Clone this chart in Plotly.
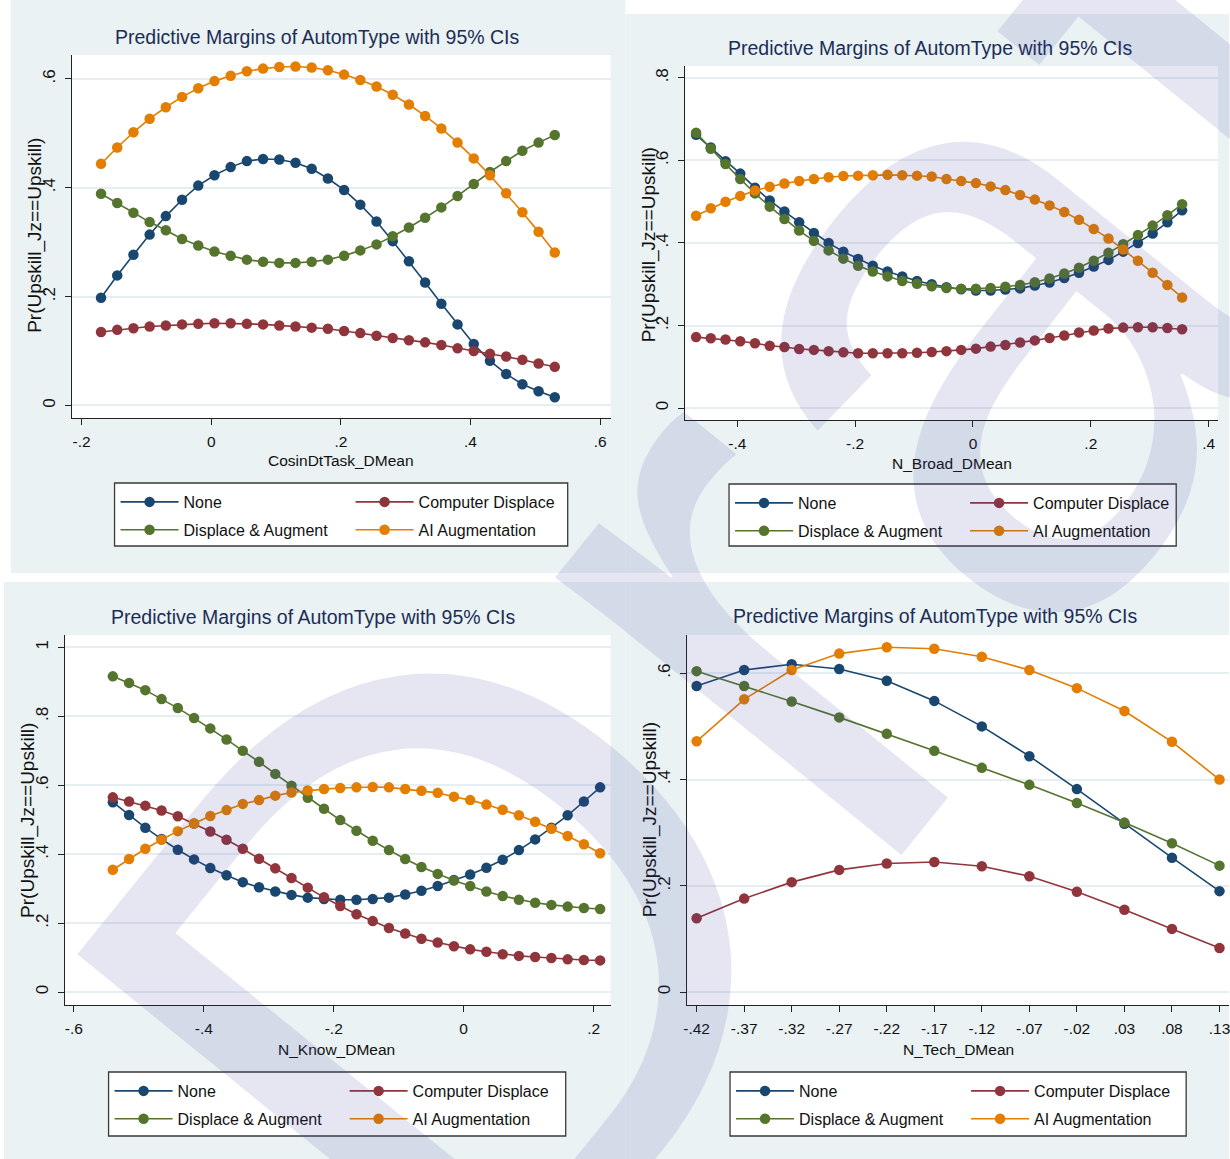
import plotly.graph_objects as go

W, H = 1230, 1159

FONT = "Liberation Sans, Arial, sans-serif"

series_names = ["None", "Computer Displace", "Displace & Augment", "AI Augmentation"]
series_colors = ["#1a476f", "#90353b", "#55752f", "#e37e00"]

title_text = "Predictive Margins of AutomType with 95% CIs"
y_title = "Pr(Upskill_Jz==Upskill)"

# ---- CosinDtTask_DMean ----
cosin_x = [-0.17, -0.145, -0.12, -0.095, -0.07, -0.045, -0.02, 0.005, 0.03, 0.055,
           0.08, 0.105, 0.13, 0.155, 0.18, 0.205, 0.23, 0.255, 0.28, 0.305,
           0.33, 0.355, 0.38, 0.405, 0.43, 0.455, 0.48, 0.505, 0.53]
cosin_none = [0.198, 0.239, 0.277, 0.314, 0.348, 0.378, 0.404, 0.423, 0.438, 0.449,
              0.453, 0.452, 0.446, 0.435, 0.417, 0.396, 0.369, 0.338, 0.302, 0.265,
              0.226, 0.187, 0.149, 0.113, 0.082, 0.058, 0.039, 0.026, 0.015]
cosin_comp = [0.135, 0.139, 0.142, 0.145, 0.147, 0.149, 0.150, 0.151, 0.151, 0.150,
              0.149, 0.147, 0.145, 0.143, 0.141, 0.137, 0.133, 0.128, 0.124, 0.120,
              0.116, 0.111, 0.105, 0.100, 0.095, 0.090, 0.084, 0.077, 0.071]
cosin_disp = [0.389, 0.372, 0.354, 0.337, 0.322, 0.306, 0.294, 0.283, 0.275, 0.268,
              0.264, 0.262, 0.262, 0.264, 0.268, 0.275, 0.285, 0.296, 0.311, 0.327,
              0.345, 0.364, 0.385, 0.407, 0.429, 0.449, 0.468, 0.483, 0.497]
cosin_ai = [0.444, 0.474, 0.502, 0.527, 0.548, 0.567, 0.583, 0.596, 0.606, 0.614,
            0.619, 0.622, 0.623, 0.621, 0.616, 0.608, 0.598, 0.586, 0.571, 0.553,
            0.532, 0.509, 0.483, 0.454, 0.423, 0.390, 0.355, 0.319, 0.281]

# ---- N_Broad_DMean ----
broad_x = [-0.47, -0.445, -0.42, -0.395, -0.37, -0.345, -0.32, -0.295, -0.27, -0.245,
           -0.22, -0.195, -0.17, -0.145, -0.12, -0.095, -0.07, -0.045, -0.02, 0.005,
           0.03, 0.055, 0.08, 0.105, 0.13, 0.155, 0.18, 0.205, 0.23, 0.255,
           0.28, 0.305, 0.33, 0.355]
broad_none = [0.662, 0.631, 0.598, 0.568, 0.534, 0.503, 0.476, 0.450, 0.424, 0.400,
              0.379, 0.361, 0.345, 0.331, 0.319, 0.308, 0.300, 0.293, 0.288, 0.285,
              0.285, 0.287, 0.290, 0.297, 0.304, 0.315, 0.328, 0.343, 0.359, 0.379,
              0.400, 0.423, 0.450, 0.479]
broad_comp = [0.172, 0.169, 0.166, 0.162, 0.157, 0.151, 0.148, 0.143, 0.141, 0.138,
              0.135, 0.133, 0.133, 0.133, 0.133, 0.134, 0.136, 0.138, 0.141, 0.144,
              0.149, 0.153, 0.159, 0.164, 0.170, 0.176, 0.183, 0.188, 0.193, 0.195,
              0.196, 0.196, 0.194, 0.191]
broad_disp = [0.667, 0.628, 0.591, 0.555, 0.520, 0.488, 0.458, 0.430, 0.405, 0.382,
              0.362, 0.345, 0.331, 0.319, 0.308, 0.301, 0.295, 0.291, 0.289, 0.289,
              0.291, 0.294, 0.298, 0.305, 0.314, 0.326, 0.340, 0.357, 0.376, 0.397,
              0.419, 0.442, 0.467, 0.494]
broad_ai = [0.466, 0.484, 0.500, 0.514, 0.527, 0.536, 0.544, 0.550, 0.555, 0.559,
            0.562, 0.563, 0.564, 0.565, 0.564, 0.563, 0.561, 0.555, 0.550, 0.545,
            0.537, 0.528, 0.516, 0.505, 0.491, 0.475, 0.456, 0.434, 0.411, 0.384,
            0.357, 0.328, 0.298, 0.268]

# ---- N_Know_DMean ----
know_x = [-0.54, -0.515, -0.49, -0.465, -0.44, -0.415, -0.39, -0.365, -0.34, -0.315,
          -0.29, -0.265, -0.24, -0.215, -0.19, -0.165, -0.14, -0.115, -0.09, -0.065,
          -0.04, -0.015, 0.01, 0.035, 0.06, 0.085, 0.11, 0.135, 0.16, 0.185, 0.21]
know_none = [0.551, 0.514, 0.477, 0.444, 0.413, 0.385, 0.360, 0.339, 0.319, 0.304,
             0.292, 0.282, 0.274, 0.270, 0.268, 0.268, 0.270, 0.274, 0.283, 0.294,
             0.308, 0.325, 0.341, 0.361, 0.384, 0.412, 0.443, 0.477, 0.513, 0.553, 0.594]
know_comp = [0.565, 0.553, 0.541, 0.527, 0.510, 0.489, 0.466, 0.442, 0.416, 0.387,
             0.359, 0.331, 0.303, 0.275, 0.250, 0.226, 0.206, 0.186, 0.170, 0.155,
             0.144, 0.133, 0.124, 0.117, 0.110, 0.105, 0.102, 0.099, 0.095, 0.093, 0.092]
know_disp = [0.916, 0.897, 0.876, 0.850, 0.824, 0.795, 0.765, 0.733, 0.700, 0.668,
             0.633, 0.599, 0.564, 0.532, 0.499, 0.468, 0.439, 0.412, 0.386, 0.363,
             0.343, 0.324, 0.308, 0.292, 0.279, 0.268, 0.259, 0.253, 0.248, 0.244, 0.241]
know_ai = [0.355, 0.386, 0.416, 0.442, 0.467, 0.489, 0.511, 0.528, 0.546, 0.557,
           0.570, 0.579, 0.585, 0.589, 0.592, 0.594, 0.595, 0.594, 0.589, 0.584,
           0.578, 0.567, 0.557, 0.544, 0.529, 0.513, 0.494, 0.474, 0.453, 0.429, 0.403]

# ---- N_Tech_DMean ----
tech_x = [-0.42, -0.37, -0.32, -0.27, -0.22, -0.17, -0.12, -0.07, -0.02, 0.03, 0.08, 0.13]
tech_ticktext = ["-.42", "-.37", "-.32", "-.27", "-.22", "-.17", "-.12", "-.07", "-.02", ".03", ".08", ".13"]
tech_none = [0.576, 0.606, 0.617, 0.608, 0.586, 0.548, 0.500, 0.444, 0.382, 0.317, 0.253, 0.190]
tech_comp = [0.139, 0.176, 0.207, 0.230, 0.242, 0.245, 0.237, 0.218, 0.189, 0.155, 0.119, 0.083]
tech_disp = [0.604, 0.576, 0.547, 0.517, 0.486, 0.454, 0.422, 0.390, 0.356, 0.319, 0.280, 0.238]
tech_ai = [0.472, 0.551, 0.606, 0.637, 0.649, 0.646, 0.631, 0.606, 0.572, 0.529, 0.471, 0.400]


def fx(px):
    return px / W


def fy(py):
    return 1 - py / H


# Panel layout, all in pixel units of the page
panels = [
    dict(name="CosinDtTask_DMean", x=cosin_x, ys=[cosin_none, cosin_comp, cosin_disp, cosin_ai],
         bg=(7, 0, 624, 573), plot=(68, 55, 609, 418),
         xrange=[-0.2152, 0.616], yrange=[-0.023, 0.644],
         xtv=[-0.2, 0, 0.2, 0.4, 0.6], xtt=["-.2", "0", ".2", ".4", ".6"],
         ytv=[0, 0.2, 0.4, 0.6], ytt=["0", ".2", ".4", ".6"],
         title=(315, 37), xt=(338, 461), yt=(31, 235), legend=(111, 483, 566, 546)),
    dict(name="N_Broad_DMean", x=broad_x, ys=[broad_none, broad_comp, broad_disp, broad_ai],
         bg=(624, 14, 1230, 573), plot=(684, 66, 1219, 420),
         xrange=[-0.4884, 0.416], yrange=[-0.0288, 0.8286],
         xtv=[-0.4, -0.2, 0, 0.2, 0.4], xtt=["-.4", "-.2", "0", ".2", ".4"],
         ytv=[0, 0.2, 0.4, 0.6, 0.8], ytt=["0", ".2", ".4", ".6", ".8"],
         title=(930, 48), xt=(952, 463), yt=(648, 245), legend=(728, 484, 1177, 546)),
    dict(name="N_Know_DMean", x=know_x, ys=[know_none, know_comp, know_disp, know_ai],
         bg=(0, 582, 624, 1159), plot=(61, 635, 609, 1005),
         xrange=[-0.614, 0.226], yrange=[-0.0374, 1.036],
         xtv=[-0.6, -0.4, -0.2, 0, 0.2], xtt=["-.6", "-.4", "-.2", "0", ".2"],
         ytv=[0, 0.2, 0.4, 0.6, 0.8, 1], ytt=["0", ".2", ".4", ".6", ".8", "1"],
         title=(311, 617), xt=(334, 1049), yt=(24, 820), legend=(105, 1072, 564, 1136)),
    dict(name="N_Tech_DMean", x=tech_x, ys=[tech_none, tech_comp, tech_disp, tech_ai],
         bg=(624, 582, 1230, 1159), plot=(686, 635, 1230, 1005),
         xrange=[-0.4299, 0.140], yrange=[-0.0242, 0.672],
         xtv=tech_x, xtt=tech_ticktext,
         ytv=[0, 0.2, 0.4, 0.6], ytt=["0", ".2", ".4", ".6"],
         title=(935, 616), xt=(958, 1049), yt=(649, 820), legend=(729, 1072, 1187, 1136)),
]

fig = go.Figure()
shapes = []
annotations = []
layout_axes = {}
legend_defs = {}

AXIS_COLOR = "#222222"
GRID_COLOR = "#e6eef1"
PANEL_BG = "#eaf2f3"
TITLE_COLOR = "#1c2d57"
TEXT_COLOR = "#111111"

legend_counter = 0
for i, p in enumerate(panels):
    k = "" if i == 0 else str(i + 1)
    l, t, r, b = p["plot"]
    bl, bt, br, bb = p["bg"]

    # panel background and white plot region
    shapes.append(dict(type="rect", xref="paper", yref="paper", layer="below",
                       x0=fx(bl), x1=fx(br), y0=fy(bb), y1=fy(bt),
                       fillcolor=PANEL_BG, line=dict(width=0)))
    shapes.append(dict(type="rect", xref="paper", yref="paper", layer="below",
                       x0=fx(l), x1=fx(r), y0=fy(b), y1=fy(t),
                       fillcolor="white", line=dict(width=0)))

    layout_axes["xaxis" + k] = dict(
        domain=[fx(l), fx(r)], range=p["xrange"], anchor="y" + k,
        showline=True, linecolor=AXIS_COLOR, linewidth=1.2,
        ticks="outside", ticklen=6, tickwidth=1.2, tickcolor=AXIS_COLOR,
        tickvals=p["xtv"], ticktext=p["xtt"], ticklabelstandoff=3,
        ticklabeloverflow="allow",
        tickfont=dict(family=FONT, size=15.5, color=TEXT_COLOR),
        showgrid=False, zeroline=False, fixedrange=True)
    layout_axes["yaxis" + k] = dict(
        domain=[fy(b), fy(t)], range=p["yrange"], anchor="x" + k,
        showline=True, linecolor=AXIS_COLOR, linewidth=1.2,
        ticks="outside", ticklen=6, tickwidth=1.2, tickcolor=AXIS_COLOR,
        tickvals=p["ytv"], ticktext=p["ytt"], tickangle=-90, ticklabelstandoff=3,
        tickfont=dict(family=FONT, size=17, color=TEXT_COLOR),
        showgrid=True, gridcolor=GRID_COLOR, gridwidth=1.5, zeroline=False, fixedrange=True)

    # legend frame
    lx0, ly0, lx1, ly1 = p["legend"]
    shapes.append(dict(type="rect", xref="paper", yref="paper", layer="below",
                       x0=fx(lx0), x1=fx(lx1), y0=fy(ly1), y1=fy(ly0),
                       fillcolor="white", line=dict(color="#3a3a3a", width=1.3)))

    # two legend columns per panel
    col_names = []
    for c, off in enumerate([1, 237]):
        legend_counter += 1
        lname = "legend" if legend_counter == 1 else "legend%d" % legend_counter
        col_names.append(lname)
        legend_defs[lname] = dict(
            x=fx(lx0 + off), y=fy(ly0 + 2), xanchor="left", yanchor="top",
            orientation="v", bgcolor="rgba(0,0,0,0)", borderwidth=0,
            itemwidth=58, tracegroupgap=4,
            font=dict(family=FONT, size=16, color=TEXT_COLOR))

    # None & Displace in first column, Computer Displace & AI in second
    col_of = [0, 1, 0, 1]
    order = [0, 2, 1, 3]
    for s in order:
        fig.add_trace(go.Scatter(
            x=p["x"], y=p["ys"][s], name=series_names[s],
            mode="lines+markers", xaxis="x" + k, yaxis="y" + k,
            line=dict(color=series_colors[s], width=1.6),
            marker=dict(color=series_colors[s], size=10.5, line=dict(width=0)),
            legend=col_names[col_of[s]], legendgroup="p%d_%d" % (i, s),
            cliponaxis=False, showlegend=True))

    # titles
    annotations.append(dict(text=title_text, xref="paper", yref="paper",
                            x=fx(p["title"][0]), y=fy(p["title"][1]),
                            xanchor="center", yanchor="middle", showarrow=False,
                            font=dict(family=FONT, size=19.5, color=TITLE_COLOR)))
    annotations.append(dict(text=p["name"], xref="paper", yref="paper",
                            x=fx(p["xt"][0]), y=fy(p["xt"][1]),
                            xanchor="center", yanchor="middle", showarrow=False,
                            font=dict(family=FONT, size=15.5, color=TEXT_COLOR)))
    annotations.append(dict(text=y_title, xref="paper", yref="paper",
                            x=fx(p["yt"][0]), y=fy(p["yt"][1]), textangle=-90,
                            xanchor="center", yanchor="middle", showarrow=False,
                            font=dict(family=FONT, size=19, color=TEXT_COLOR)))

# diagonal watermark
annotations.append(dict(text="Draft", xref="paper", yref="paper",
                        x=fx(830), y=fy(480), xanchor="center", yanchor="middle",
                        showarrow=False, textangle=-51,
                        font=dict(family=FONT, size=840, color="rgba(60,60,160,0.13)")))

fig.update_layout(
    width=W, height=H, margin=dict(l=0, r=0, t=0, b=0),
    paper_bgcolor="white", plot_bgcolor="white",
    shapes=shapes, annotations=annotations,
    **layout_axes, **legend_defs)

fig.write_html("out.html", config={"displayModeBar": False})
